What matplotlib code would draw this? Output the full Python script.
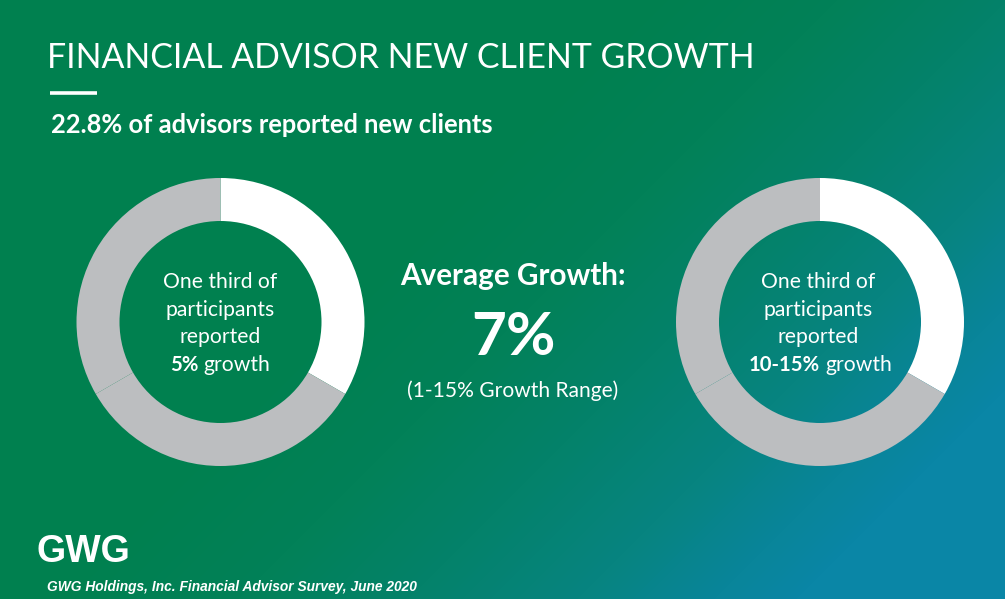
#!/usr/bin/env python3
"""GWG financial advisor new client growth slide."""
import numpy as np
import matplotlib
matplotlib.use("Agg")
import matplotlib.pyplot as plt
from matplotlib.colors import LinearSegmentedColormap

W, H = 1005, 599

title = "FINANCIAL ADVISOR NEW CLIENT GROWTH"
subtitle = "22.8% of advisors reported new clients"
source = "GWG Holdings, Inc. Financial Advisor Survey, June 2020"

share_values = [1, 1, 1]
share_colors = ["white", "#bcbec0", "#bcbec0"]
left_lines = ["One third of", "participants", "reported"]
left_bold = "5%"
right_lines = ["One third of", "participants", "reported"]
right_bold = "10-15%"

plt.rcParams["font.family"] = ["Lato", "DejaVu Sans"]


def draw_donut(fig, cx, cy, r_out, r_in):
    # axes placed in pixel coordinates of the slide
    pad = r_out + 2
    ax = fig.add_axes([(cx - pad) / W, 1 - (cy + pad) / H, 2 * pad / W, 2 * pad / H])
    ax.pie(share_values, colors=share_colors, startangle=90, counterclock=False,
           radius=r_out, wedgeprops=dict(width=r_out - r_in, edgecolor="none"))
    ax.set_xlim(-pad, pad)
    ax.set_ylim(-pad, pad)
    ax.set_aspect("equal")
    ax.axis("off")
    ax.patch.set_alpha(0)


def main():
    fig = plt.figure(figsize=(W / 100, H / 100), dpi=100)
    bg = fig.add_axes([0, 0, 1, 1])
    bg.set_xlim(0, W)
    bg.set_ylim(H, 0)
    bg.axis("off")

    # diagonal background gradient, flat green top left, flat blue bottom right
    cmap = LinearSegmentedColormap.from_list(
        "slide", [(0, "#00804f"), (0.46, "#00804f"), (0.6, "#028158"), (0.72, "#04826a"),
                  (0.84, "#078480"), (0.94, "#09859a"), (1, "#0a86a6")])
    xx, yy = np.meshgrid(np.arange(W), np.arange(H))
    bg.imshow(np.clip((xx + yy) / 1400, 0, 1), extent=(0, W, H, 0), cmap=cmap,
              vmin=0, vmax=1, aspect="auto", zorder=0)

    bg.text(47, 58, title, color="white", fontsize=24.4, ha="left", va="center")
    bg.plot([50, 97], [93, 93], color="white", lw=2.6, solid_capstyle="butt")
    bg.text(51, 125, subtitle, color="white", fontsize=18.4, weight="bold",
            ha="left", va="center")

    draw_donut(fig, 220.5, 322, 144, 101)
    draw_donut(fig, 820, 322, 144, 101)

    for cx, lines, bold, split in [(220.5, left_lines, left_bold, 201),
                                   (820, right_lines, right_bold, 822.5)]:
        for y, line in zip([282, 310, 337], lines):
            bg.text(cx - 0.5 if cx < 500 else cx - 2, y, line, color="white", fontsize=15.2,
                    ha="center", va="center", zorder=3)
        bg.text(split - 2.5, 365, bold, color="white", fontsize=14.6, weight="bold",
                ha="right", va="center", zorder=3)
        bg.text(split + 2.5, 365, "growth", color="white", fontsize=15.2,
                ha="left", va="center", zorder=3)

    bg.text(512.5, 276, "Average Growth:", color="white", fontsize=21.3, weight="bold",
            ha="center", va="center")
    bg.text(513, 338, "7%", color="white", fontsize=43.5, weight="bold",
            ha="center", va="center")
    bg.text(513, 391, "(1-15% Growth Range)", color="white", fontsize=15.1,
            ha="center", va="center")

    bg.text(83, 552, "GWG", color="white", fontsize=27, weight="bold",
            family=["Liberation Sans"], ha="center", va="center")
    bg.text(47, 587, source, color="white", fontsize=9.95, weight="bold", style="italic",
            family=["Liberation Sans"], ha="left", va="center")

    fig.savefig("out.png", dpi=100)


if __name__ == "__main__":
    main()
